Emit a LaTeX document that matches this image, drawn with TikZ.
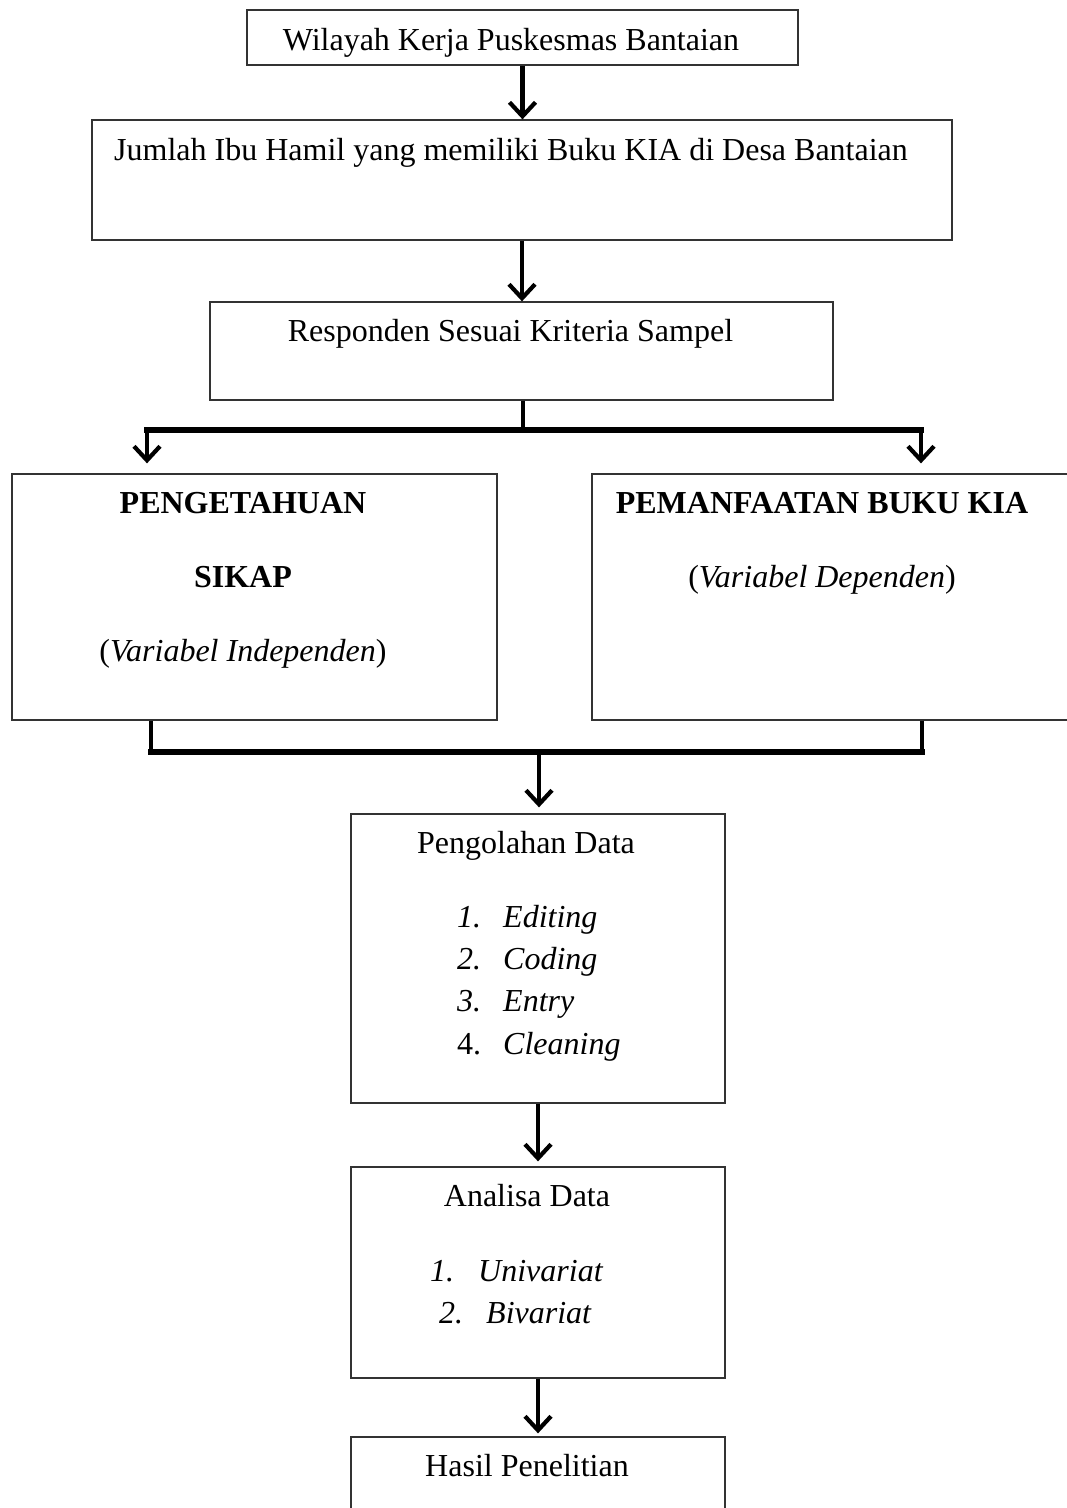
\documentclass[tikz,border=0pt]{standalone}
\usepackage{fontspec}
\setmainfont{Liberation Serif}
\usetikzlibrary{arrows.meta,calc}
\begin{document}
\begin{tikzpicture}[x=1pt,y=-1pt,
  box/.style={draw=black!80, line width=1.3pt, inner sep=0pt, fill=white},
  txt/.style={anchor=base, inner sep=0pt, font=\fontsize{32}{38}\selectfont},
  ltxt/.style={anchor=base west, inner sep=0pt, font=\fontsize{32}{38}\selectfont},
  btxt/.style={anchor=base, inner sep=0pt, font=\fontsize{32}{38}\selectfont\bfseries},
  arr/.style={line width=4.2pt, -{Straight Barb[length=14pt,width=26pt]}},
  bar/.style={line width=5.5pt, line cap=rect},
  stem/.style={line width=4pt}]
\useasboundingbox (0,0) rectangle (1067,1508);
\clip (0,0) rectangle (1067,1508);
\fill[white] (0,0) rectangle (1067,1508);

% boxes
\node[box, minimum width=551pt, minimum height=55pt] (b1) at (522.5,37.5) {};
\node[box, minimum width=860pt, minimum height=120pt] (b2) at (522,180) {};
\node[box, minimum width=623pt, minimum height=98pt] (b3) at (521.5,351) {};
\node[box, minimum width=485pt, minimum height=246pt] (b4) at (254.5,597) {};
\node[box, minimum width=498pt, minimum height=246pt] (b5) at (841,597) {};
\node[box, minimum width=374pt, minimum height=289pt] (b6) at (538,958.5) {};
\node[box, minimum width=374pt, minimum height=211pt] (b7) at (538,1272.5) {};
\node[box, minimum width=374pt, minimum height=103pt] (b8) at (538,1488.5) {};

% texts
\node[txt] (t1) at (511,50) {Wilayah Kerja Puskesmas Bantaian};
\node[ltxt] (t2) at (114,160) {Jumlah Ibu Hamil yang memiliki Buku KIA di Desa Bantaian};
\node[txt] (t3) at (510.5,341) {Responden Sesuai Kriteria Sampel};
\node[btxt] (t4a) at (243,513) {PENGETAHUAN};
\node[btxt] (t4b) at (243,587) {SIKAP};
\node[txt] (t4c) at (243,661) {(\textit{Variabel Independen})};
\node[btxt] (t5a) at (822,513) {PEMANFAATAN BUKU KIA};
\node[txt] (t5b) at (822,587) {(\textit{Variabel Dependen})};
\node[txt] (t6) at (526,853) {Pengolahan Data};
\node[ltxt] (n61) at (457,927) {\textit{1.}};
\node[ltxt] (i61) at (503,927) {\textit{Editing}};
\node[ltxt] (n62) at (457,969) {\textit{2.}};
\node[ltxt] (i62) at (503,969) {\textit{Coding}};
\node[ltxt] (n63) at (457,1011) {\textit{3.}};
\node[ltxt] (i63) at (503,1011) {\textit{Entry}};
\node[ltxt] (n64) at (457,1054) {4.};
\node[ltxt] (i64) at (503,1054) {\textit{Cleaning}};
\node[txt] (t7) at (527,1206) {Analisa Data};
\node[ltxt] (n71) at (430,1281) {\textit{1.}};
\node[ltxt] (i71) at (478,1281) {\textit{Univariat}};
\node[ltxt] (n72) at (439,1323) {\textit{2.}};
\node[ltxt] (i72) at (486,1323) {\textit{Bivariat}};
\node[txt] (t8) at (527,1476) {Hasil Penelitian};

% connectors
\draw[arr] (b1.south) -- (b1.south |- b2.north);
\draw[arr] (b2.south) -- (b2.south |- b3.north);

\coordinate (sM) at (523,430);
\coordinate (sL) at (147,430);
\coordinate (sR) at (921,430);
\draw[stem] (b3.south -| sM) -- (sM);
\draw[bar] (sL) -- (sR);
\draw[arr, shorten >=10pt] (sL) -- (sL |- b4.north);
\draw[arr, shorten >=10pt] (sR) -- (sR |- b5.north);

\coordinate (mL) at (151,752);
\coordinate (mR) at (922,752);
\coordinate (mM) at (539,752);
\draw[stem] (b4.south -| mL) -- (mL);
\draw[stem] (b5.south -| mR) -- (mR);
\draw[bar] (mL) -- (mR);
\draw[arr, shorten >=6pt] (mM) -- (mM |- b6.north);

\draw[arr, shorten >=5pt] (b6.south) -- (b7.north);
\draw[arr, shorten >=3pt] (b7.south) -- (b8.north);
\end{tikzpicture}
\end{document}
